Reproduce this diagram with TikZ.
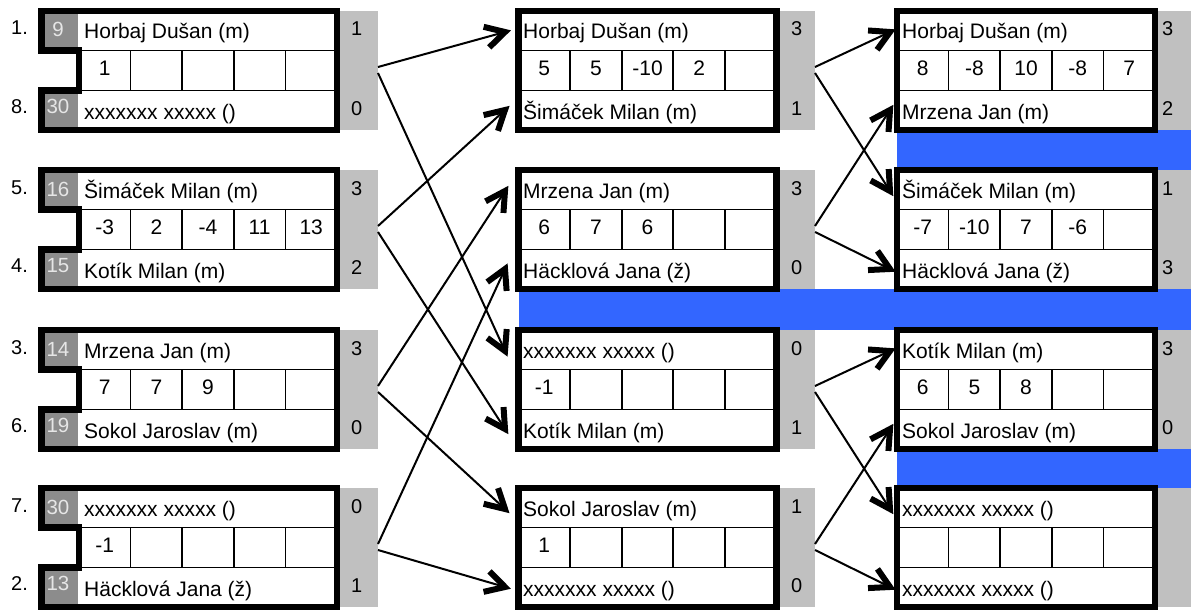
\documentclass[tikz,border=0pt]{standalone}
\usepackage{fontspec}
\setmainfont{Liberation Sans}
\usetikzlibrary{calc}
\definecolor{seedgray}{HTML}{8C8C8C}
\definecolor{scoregray}{HTML}{C0C0C0}
\definecolor{barblue}{HTML}{3366FF}
\definecolor{seedtext}{HTML}{E6E6E6}
\tikzset{
  frame/.style={line width=6.5pt,line join=miter,line cap=rect},
  gridline/.style={line width=1.7pt},
  nm/.style={anchor=base west,inner sep=0pt,font=\fontsize{21}{24}\selectfont},
  val/.style={anchor=base,inner sep=0pt,font=\fontsize{21}{24}\selectfont},
  sc/.style={anchor=base west,inner sep=0pt,font=\fontsize{20}{23}\selectfont},
  sd/.style={anchor=base,inner sep=0pt,text=seedtext,font=\fontsize{20.5}{24}\selectfont},
  rnd/.style={anchor=base west,inner sep=0pt,font=\fontsize{20}{23}\selectfont},
  conn/.style={line width=2pt},
  barb/.style={line width=6pt,line join=miter,line cap=butt},
  bar/.style={fill=barblue},
}
% grid of a table: #1 = x of left border, #2 = t
\newcommand{\tablegrid}[2]{%
  \draw[gridline] (#1,#2+39.5) -- ++(258,0);
  \draw[gridline] (#1,#2+79.5) -- ++(258,0);
  \foreach \i in {1,2,3,4} \draw[gridline] (#1+51.6*\i,#2+39.5) -- ++(0,40);
}
% left-column block frame, #1 = t
\newcommand{\leftblockframe}[1]{%
  \fill[seedgray] (41.5,#1) rectangle (78,#1+39.5);
  \fill[seedgray] (41.5,#1+79.5) rectangle (78,#1+119);
  \fill[scoregray] (340,#1) rectangle (377.5,#1+119);
  \tablegrid{79}{#1}
  \draw[frame] (41.5,#1) -- (337,#1) -- (337,#1+119) -- (41.5,#1+119) -- (41.5,#1+79.5) -- (79,#1+79.5) -- (79,#1+39.5) -- (41.5,#1+39.5) -- cycle;
}
% plain block frame, #1 = x left border, #2 = t, #3 = right edge of score box
\newcommand{\plainblockframe}[3]{%
  \fill[scoregray] (#1+261,#2) rectangle (#3,#2+119);
  \tablegrid{#1}{#2}
  \draw[frame] (#1,#2) rectangle (#1+258,#2+119);
}
% values of middle row: #1 prefix, #2 x left border, #3 t, #4 list
\newcommand{\cellvals}[4]{%
  \foreach \v [count=\i] in {#4} \node[val] (#1-\i) at (#2+51.6*\i-25.8,#3+64) {\v};
}
% connector with a heavy open barb: from #1 to #2
\newcommand{\conarrow}[2]{%
  \draw[conn] (#1) -- (#2);
  \draw[barb] ($(#2)!22pt!29:(#1)$) -- (#2) -- ($(#2)!22pt!-29:(#1)$);
}
\begin{document}
\begin{tikzpicture}[x=1pt,y=-1pt]
\useasboundingbox (0,0) rectangle (1191,610);
% blue bars
\fill[bar] (897,130) rectangle (1195,170);
\fill[bar] (518.5,289) rectangle (1195,330);
\fill[bar] (897,449) rectangle (1195,488);
% frames
\foreach \t in {11,170,330,488} {
  \leftblockframe{\t}
  \plainblockframe{518.5}{\t}{815}
  \plainblockframe{897}{\t}{1196}
}
% ---------- left column ----------
\node[rnd] (rd1) at (11,11+24) {1.};
\node[rnd] (rd8) at (11,11+102) {8.};
\node[sd] (sdL1a) at (58,11+26) {9};
\node[sd] (sdL1b) at (58,11+102) {30};
\node[nm] (nL1a) at (84,11+28) {Horbaj Dušan (m)};
\node[nm] (nL1b) at (84,11+108) {xxxxxxx xxxxx ()};
\node[sc] (sL1a) at (351,11+25) {1};
\node[sc] (sL1b) at (351,11+104) {0};
\cellvals{vL1}{79}{11}{1}

\node[rnd] (rd5) at (11,170+24) {5.};
\node[rnd] (rd4) at (11,170+102) {4.};
\node[sd] (sdL2a) at (58,170+26) {16};
\node[sd] (sdL2b) at (58,170+102) {15};
\node[nm] (nL2a) at (84,170+28) {Šimáček Milan (m)};
\node[nm] (nL2b) at (84,170+108) {Kotík Milan (m)};
\node[sc] (sL2a) at (351,170+25) {3};
\node[sc] (sL2b) at (351,170+104) {2};
\cellvals{vL2}{79}{170}{-3,2,-4,11,13}

\node[rnd] (rd3) at (11,330+24) {3.};
\node[rnd] (rd6) at (11,330+102) {6.};
\node[sd] (sdL3a) at (58,330+26) {14};
\node[sd] (sdL3b) at (58,330+102) {19};
\node[nm] (nL3a) at (84,330+28) {Mrzena Jan (m)};
\node[nm] (nL3b) at (84,330+108) {Sokol Jaroslav (m)};
\node[sc] (sL3a) at (351,330+25) {3};
\node[sc] (sL3b) at (351,330+104) {0};
\cellvals{vL3}{79}{330}{7,7,9}

\node[rnd] (rd7) at (11,488+24) {7.};
\node[rnd] (rd2) at (11,488+102) {2.};
\node[sd] (sdL4a) at (58,488+26) {30};
\node[sd] (sdL4b) at (58,488+102) {13};
\node[nm] (nL4a) at (84,488+28) {xxxxxxx xxxxx ()};
\node[nm] (nL4b) at (84,488+108) {Häcklová Jana (ž)};
\node[sc] (sL4a) at (351,488+25) {0};
\node[sc] (sL4b) at (351,488+104) {1};
\cellvals{vL4}{79}{488}{-1}
% ---------- middle column ----------
\node[nm] (nM1a) at (523,11+28) {Horbaj Dušan (m)};
\node[nm] (nM1b) at (523,11+108) {Šimáček Milan (m)};
\node[sc] (sM1a) at (791,11+25) {3};
\node[sc] (sM1b) at (791,11+104) {1};
\cellvals{vM1}{518.5}{11}{5,5,-10,2}

\node[nm] (nM2a) at (523,170+28) {Mrzena Jan (m)};
\node[nm] (nM2b) at (523,170+108) {Häcklová Jana (ž)};
\node[sc] (sM2a) at (791,170+25) {3};
\node[sc] (sM2b) at (791,170+104) {0};
\cellvals{vM2}{518.5}{170}{6,7,6}

\node[nm] (nM3a) at (523,330+28) {xxxxxxx xxxxx ()};
\node[nm] (nM3b) at (523,330+108) {Kotík Milan (m)};
\node[sc] (sM3a) at (791,330+25) {0};
\node[sc] (sM3b) at (791,330+104) {1};
\cellvals{vM3}{518.5}{330}{-1}

\node[nm] (nM4a) at (523,488+28) {Sokol Jaroslav (m)};
\node[nm] (nM4b) at (523,488+108) {xxxxxxx xxxxx ()};
\node[sc] (sM4a) at (791,488+25) {1};
\node[sc] (sM4b) at (791,488+104) {0};
\cellvals{vM4}{518.5}{488}{1}
% ---------- right column ----------
\node[nm] (nR1a) at (902,11+28) {Horbaj Dušan (m)};
\node[nm] (nR1b) at (902,11+108) {Mrzena Jan (m)};
\node[sc] (sR1a) at (1162,11+25) {3};
\node[sc] (sR1b) at (1162,11+104) {2};
\cellvals{vR1}{897}{11}{8,-8,10,-8,7}

\node[nm] (nR2a) at (902,170+28) {Šimáček Milan (m)};
\node[nm] (nR2b) at (902,170+108) {Häcklová Jana (ž)};
\node[sc] (sR2a) at (1162,170+25) {1};
\node[sc] (sR2b) at (1162,170+104) {3};
\cellvals{vR2}{897}{170}{-7,-10,7,-6}

\node[nm] (nR3a) at (902,330+28) {Kotík Milan (m)};
\node[nm] (nR3b) at (902,330+108) {Sokol Jaroslav (m)};
\node[sc] (sR3a) at (1162,330+25) {3};
\node[sc] (sR3b) at (1162,330+104) {0};
\cellvals{vR3}{897}{330}{6,5,8}

\node[nm] (nR4a) at (902,488+28) {xxxxxxx xxxxx ()};
\node[nm] (nR4b) at (902,488+108) {xxxxxxx xxxxx ()};
% ---------- connector end points ----------
\foreach \k/\t in {1/11,2/170,3/330,4/488} {
  \coordinate (oL\k u) at (378,\t+56);
  \coordinate (oL\k d) at (378,\t+62);
  \coordinate (oM\k u) at (815,\t+56);
  \coordinate (oM\k d) at (815,\t+62);
  \coordinate (iM\k a) at (505,\t+21);
  \coordinate (iM\k b) at (505,\t+99);
  \coordinate (iR\k a) at (890,\t+21);
  \coordinate (iR\k b) at (890,\t+99);
}
% ---------- connectors ----------
\conarrow{oL1u}{iM1a}
\conarrow{oL1d}{iM3a}
\conarrow{oL2u}{iM1b}
\conarrow{oL2d}{iM3b}
\conarrow{oL3u}{iM2a}
\conarrow{oL3d}{iM4a}
\conarrow{oL4u}{iM2b}
\conarrow{oL4d}{iM4b}
\conarrow{oM1u}{iR1a}
\conarrow{oM1d}{iR2a}
\conarrow{oM2u}{iR1b}
\conarrow{oM2d}{iR2b}
\conarrow{oM3u}{iR3a}
\conarrow{oM3d}{iR4a}
\conarrow{oM4u}{iR3b}
\conarrow{oM4d}{iR4b}
\end{tikzpicture}
\end{document}
